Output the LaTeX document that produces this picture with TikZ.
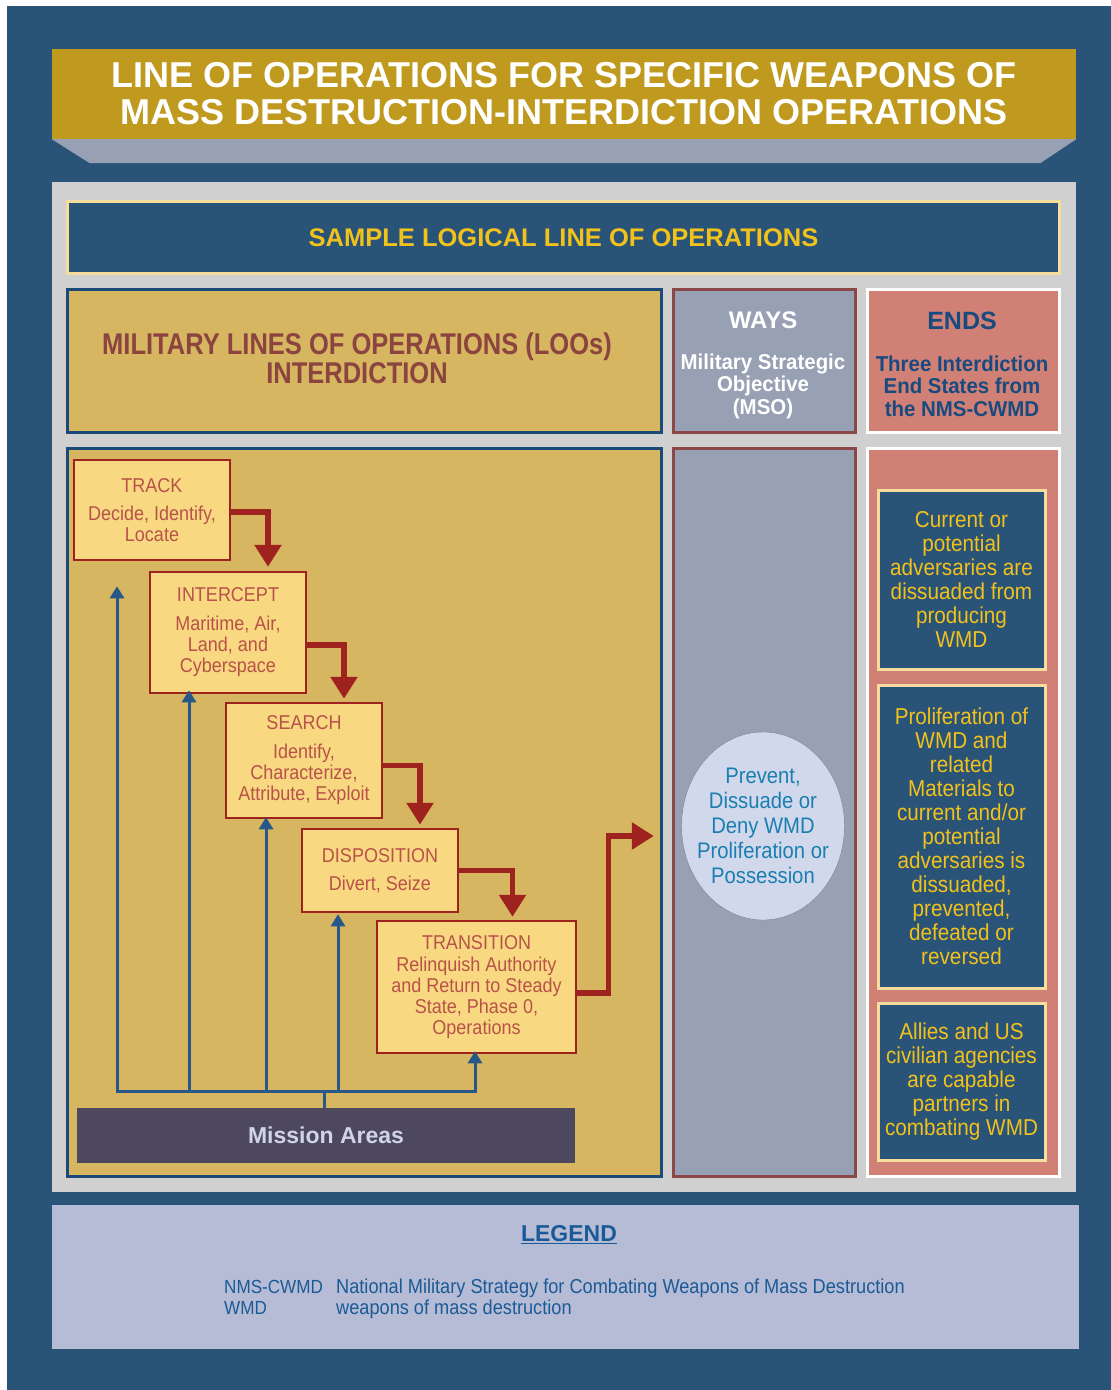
\documentclass[tikz,border=0pt]{standalone}
\usepackage{fontspec}
\setmainfont{Liberation Sans}
\newfontfamily\condfont{Liberation Sans}[FakeStretch=0.9]
\newfontfamily\semifont{Liberation Sans}[FakeStretch=0.95]
\newfontfamily\narrowfont{Liberation Sans}[FakeStretch=0.85]
\usetikzlibrary{shapes.geometric, arrows.meta, positioning, calc}
\definecolor{navyblue}{RGB}{42,83,120}
\definecolor{titlegold}{RGB}{192,154,30}
\definecolor{slategray}{RGB}{152,161,180}
\definecolor{panelgray}{RGB}{208,208,208}
\definecolor{loogold}{RGB}{214,182,96}
\definecolor{paleyellow}{RGB}{248,216,128}
\definecolor{creamline}{RGB}{246,221,158}
\definecolor{stepred}{RGB}{158,34,30}
\definecolor{steptext}{RGB}{184,82,74}
\definecolor{looborder}{RGB}{28,74,120}
\definecolor{waysborder}{RGB}{140,72,72}
\definecolor{salmon}{RGB}{208,128,116}
\definecolor{headgold}{RGB}{242,194,28}
\definecolor{endsnavy}{RGB}{24,74,128}
\definecolor{loobrown}{RGB}{139,68,64}
\definecolor{missiongray}{RGB}{78,72,94}
\definecolor{missiontext}{RGB}{208,212,234}
\definecolor{ovalfill}{RGB}{210,216,236}
\definecolor{ovaltext}{RGB}{26,127,176}
\definecolor{legendfill}{RGB}{183,188,214}
\definecolor{legendtext}{RGB}{26,90,150}
\definecolor{arrowblue}{RGB}{40,88,136}

\begin{document}
\begin{tikzpicture}[x=1pt, y=-1pt,
    column/.style={rectangle, line width=2.5pt, inner sep=0pt, anchor=north west},
    stepbox/.style={rectangle, draw=stepred, fill=paleyellow, line width=2.5pt,
                inner sep=2pt, align=center, text=steptext,
                font=\condfont\fontsize{20}{21}\selectfont},
    endsbox/.style={rectangle, draw=creamline, fill=navyblue, line width=3pt,
                inner sep=0pt, minimum width=167, align=center, text=headgold,
                font=\condfont\fontsize{23}{24}\selectfont},
    stepflow/.style={-{Triangle[width=26pt, length=22pt]}, line width=5.5pt, stepred},
    feedarrow/.style={-{Triangle[width=14pt, length=12pt]}, line width=3pt, arrowblue},
    feedline/.style={line width=3pt, arrowblue},
    legendline/.style={anchor=base west, inner sep=0pt, text=legendtext, font=\condfont\fontsize{20.2}{21}\selectfont}
]
    \useasboundingbox (0,0) rectangle (1111,1390);
    \fill[white] (0,0) rectangle (1111,1390);
    \fill[navyblue] (7,6) rectangle (1111,1390);

    \node[rectangle, fill=titlegold, minimum width=1024, minimum height=90, inner sep=0pt,
          align=center, text=white, font=\bfseries\fontsize{36}{37}\selectfont]
          (title) at (564,94) {LINE OF OPERATIONS FOR SPECIFIC WEAPONS OF\\MASS DESTRUCTION-INTERDICTION OPERATIONS};
    \fill[slategray] (title.south west) -- (title.south east) -- ++(-36,24) -- ($(title.south west)+(38,24)$) -- cycle;

    \fill[panelgray] (52,182) rectangle (1076,1192);
    \node[column, draw=creamline, fill=navyblue, line width=3pt, minimum width=992, minimum height=72,
          text=headgold, font=\bfseries\fontsize{25.5}{27}\selectfont] (sample) at (66,200) {SAMPLE LOGICAL LINE OF OPERATIONS};

    \node[column, draw=looborder, fill=loogold, minimum width=594, minimum height=143] (loohead) at (66,288) {};
    \node[align=center, text=loobrown, font=\narrowfont\bfseries\fontsize{30}{29}\selectfont]
          (lootext) at (357,358.5) {MILITARY LINES OF OPERATIONS (LOOs)\\INTERDICTION};
    \node[column, draw=waysborder, fill=slategray, minimum width=182, minimum height=143] (wayshead) at (672,288) {};
    \node[text=white, font=\bfseries\fontsize{24}{26}\selectfont] (waystitle) at (763,320) {WAYS};
    \node[align=center, text=white, font=\semifont\bfseries\fontsize{21.5}{22.5}\selectfont]
          (waystext) at (763,386) {Military Strategic\\Objective\\(MSO)};
    \node[column, draw=white, line width=3pt, fill=salmon, minimum width=192, minimum height=143] (endshead) at (866,288) {};
    \node[text=endsnavy, font=\bfseries\fontsize{25}{26}\selectfont] (endstitle) at (962,321) {ENDS};
    \node[align=center, text=endsnavy, font=\semifont\bfseries\fontsize{21.5}{22.5}\selectfont]
          (endstext) at (962,386) {Three Interdiction\\End States from\\the NMS-CWMD};

    \node[column, draw=looborder, fill=loogold, minimum width=594, minimum height=728] (loobody) at (66,447) {};
    \node[column, draw=waysborder, fill=slategray, minimum width=182, minimum height=728] (waysbody) at (672,447) {};
    \node[column, draw=white, line width=3pt, fill=salmon, minimum width=192, minimum height=728] (endsbody) at (866,447) {};

    \node[stepbox, minimum width=156, minimum height=100] (track) at (152,510)
          {TRACK\\[7pt]Decide, Identify,\\Locate};
    \node[stepbox, minimum width=156, minimum height=121] (intercept) at (228,632.5)
          {INTERCEPT\\[8pt]Maritime, Air,\\Land, and\\Cyberspace};
    \node[stepbox, minimum width=156, minimum height=115] (search) at (304,760.5)
          {SEARCH\\[8pt]Identify,\\Characterize,\\Attribute, Exploit};
    \node[stepbox, minimum width=156, minimum height=83] (disposition) at (380,870.5)
          {DISPOSITION\\[7pt]Divert, Seize};
    \node[stepbox, minimum width=199, minimum height=132] (transition) at (476.5,987)
          {TRANSITION\\[1pt]Relinquish Authority\\and Return to Steady\\State, Phase 0,\\Operations};

    \node[rectangle, fill=missiongray, minimum width=498, minimum height=55, text=missiontext,
          font=\bfseries\fontsize{23}{24}\selectfont] (mission) at (326,1135.5) {Mission Areas};

    \node[ellipse, draw=gray, fill=ovalfill, minimum width=163, minimum height=188, inner sep=0pt]
          (mso) at (763,826) {};
    \node[align=center, text=ovaltext, font=\condfont\fontsize{22.5}{25}\selectfont]
          (msotext) at (mso.center) {Prevent,\\Dissuade or\\Deny WMD\\Proliferation or\\Possession};

    \node[endsbox, minimum height=179] (dissuaded) at (961.5,579.5)
          {Current or\\potential\\adversaries are\\dissuaded from\\producing\\WMD};
    \node[endsbox, minimum height=303] (proliferation) at (961.5,836.5)
          {Proliferation of\\WMD and\\related\\Materials to\\current and/or\\potential\\adversaries is\\dissuaded,\\prevented,\\defeated or\\reversed};
    \node[endsbox, minimum height=157] (partners) at (961.5,1081.5)
          {Allies and US\\civilian agencies\\are capable\\partners in\\combating WMD};

    \draw[stepflow, shorten >=4pt] ([yshift=-2]track.east) -| ([xshift=40]intercept.north);
    \draw[stepflow, shorten >=3pt] ([yshift=-12.5]intercept.east) -| ([xshift=40]search.north);
    \draw[stepflow, shorten >=3pt] ([yshift=-5]search.east) -| ([xshift=40]disposition.north);
    \draw[stepflow, shorten >=3pt] (disposition.east) -| ([xshift=36]transition.north);
    \draw[stepflow] ([yshift=-6]transition.east) -- ++(31,0) |- ([xshift=-27.5, yshift=-10]mso.west);

    \coordinate (hub) at (324,1091);
    \draw[feedline] (mission.north -| hub) -- (hub);
    \draw[feedarrow, shorten >=25pt] (hub) -| ([xshift=-35]track.south);
    \draw[feedarrow, shorten >=-4pt] (hub) -| ([xshift=-39]intercept.south);
    \draw[feedarrow, shorten >=-2pt] (hub) -| ([xshift=-38]search.south);
    \draw[feedarrow, shorten >=1pt] (hub) -| ([xshift=-42]disposition.south);
    \draw[feedarrow, shorten >=-3pt] (hub) -| ([xshift=-1.5]transition.south);

    \fill[legendfill] (52,1205) rectangle (1079,1349);
    \node[text=legendtext, font=\bfseries\fontsize{23}{24}\selectfont] (legend) at (569,1235) {\underline{LEGEND}};
    \node[legendline, font=\condfont\fontsize{19}{21}\selectfont] (nmsabbr) at (224,1293) {NMS-CWMD};
    \node[legendline, font=\condfont\fontsize{19}{21}\selectfont] (wmdabbr) at (224,1314) {WMD};
    \node[legendline] (nmsdef) at (336,1293) {National Military Strategy for Combating Weapons of Mass Destruction};
    \node[legendline] (wmddef) at (336,1314) {weapons of mass destruction};
\end{tikzpicture}
\end{document}
